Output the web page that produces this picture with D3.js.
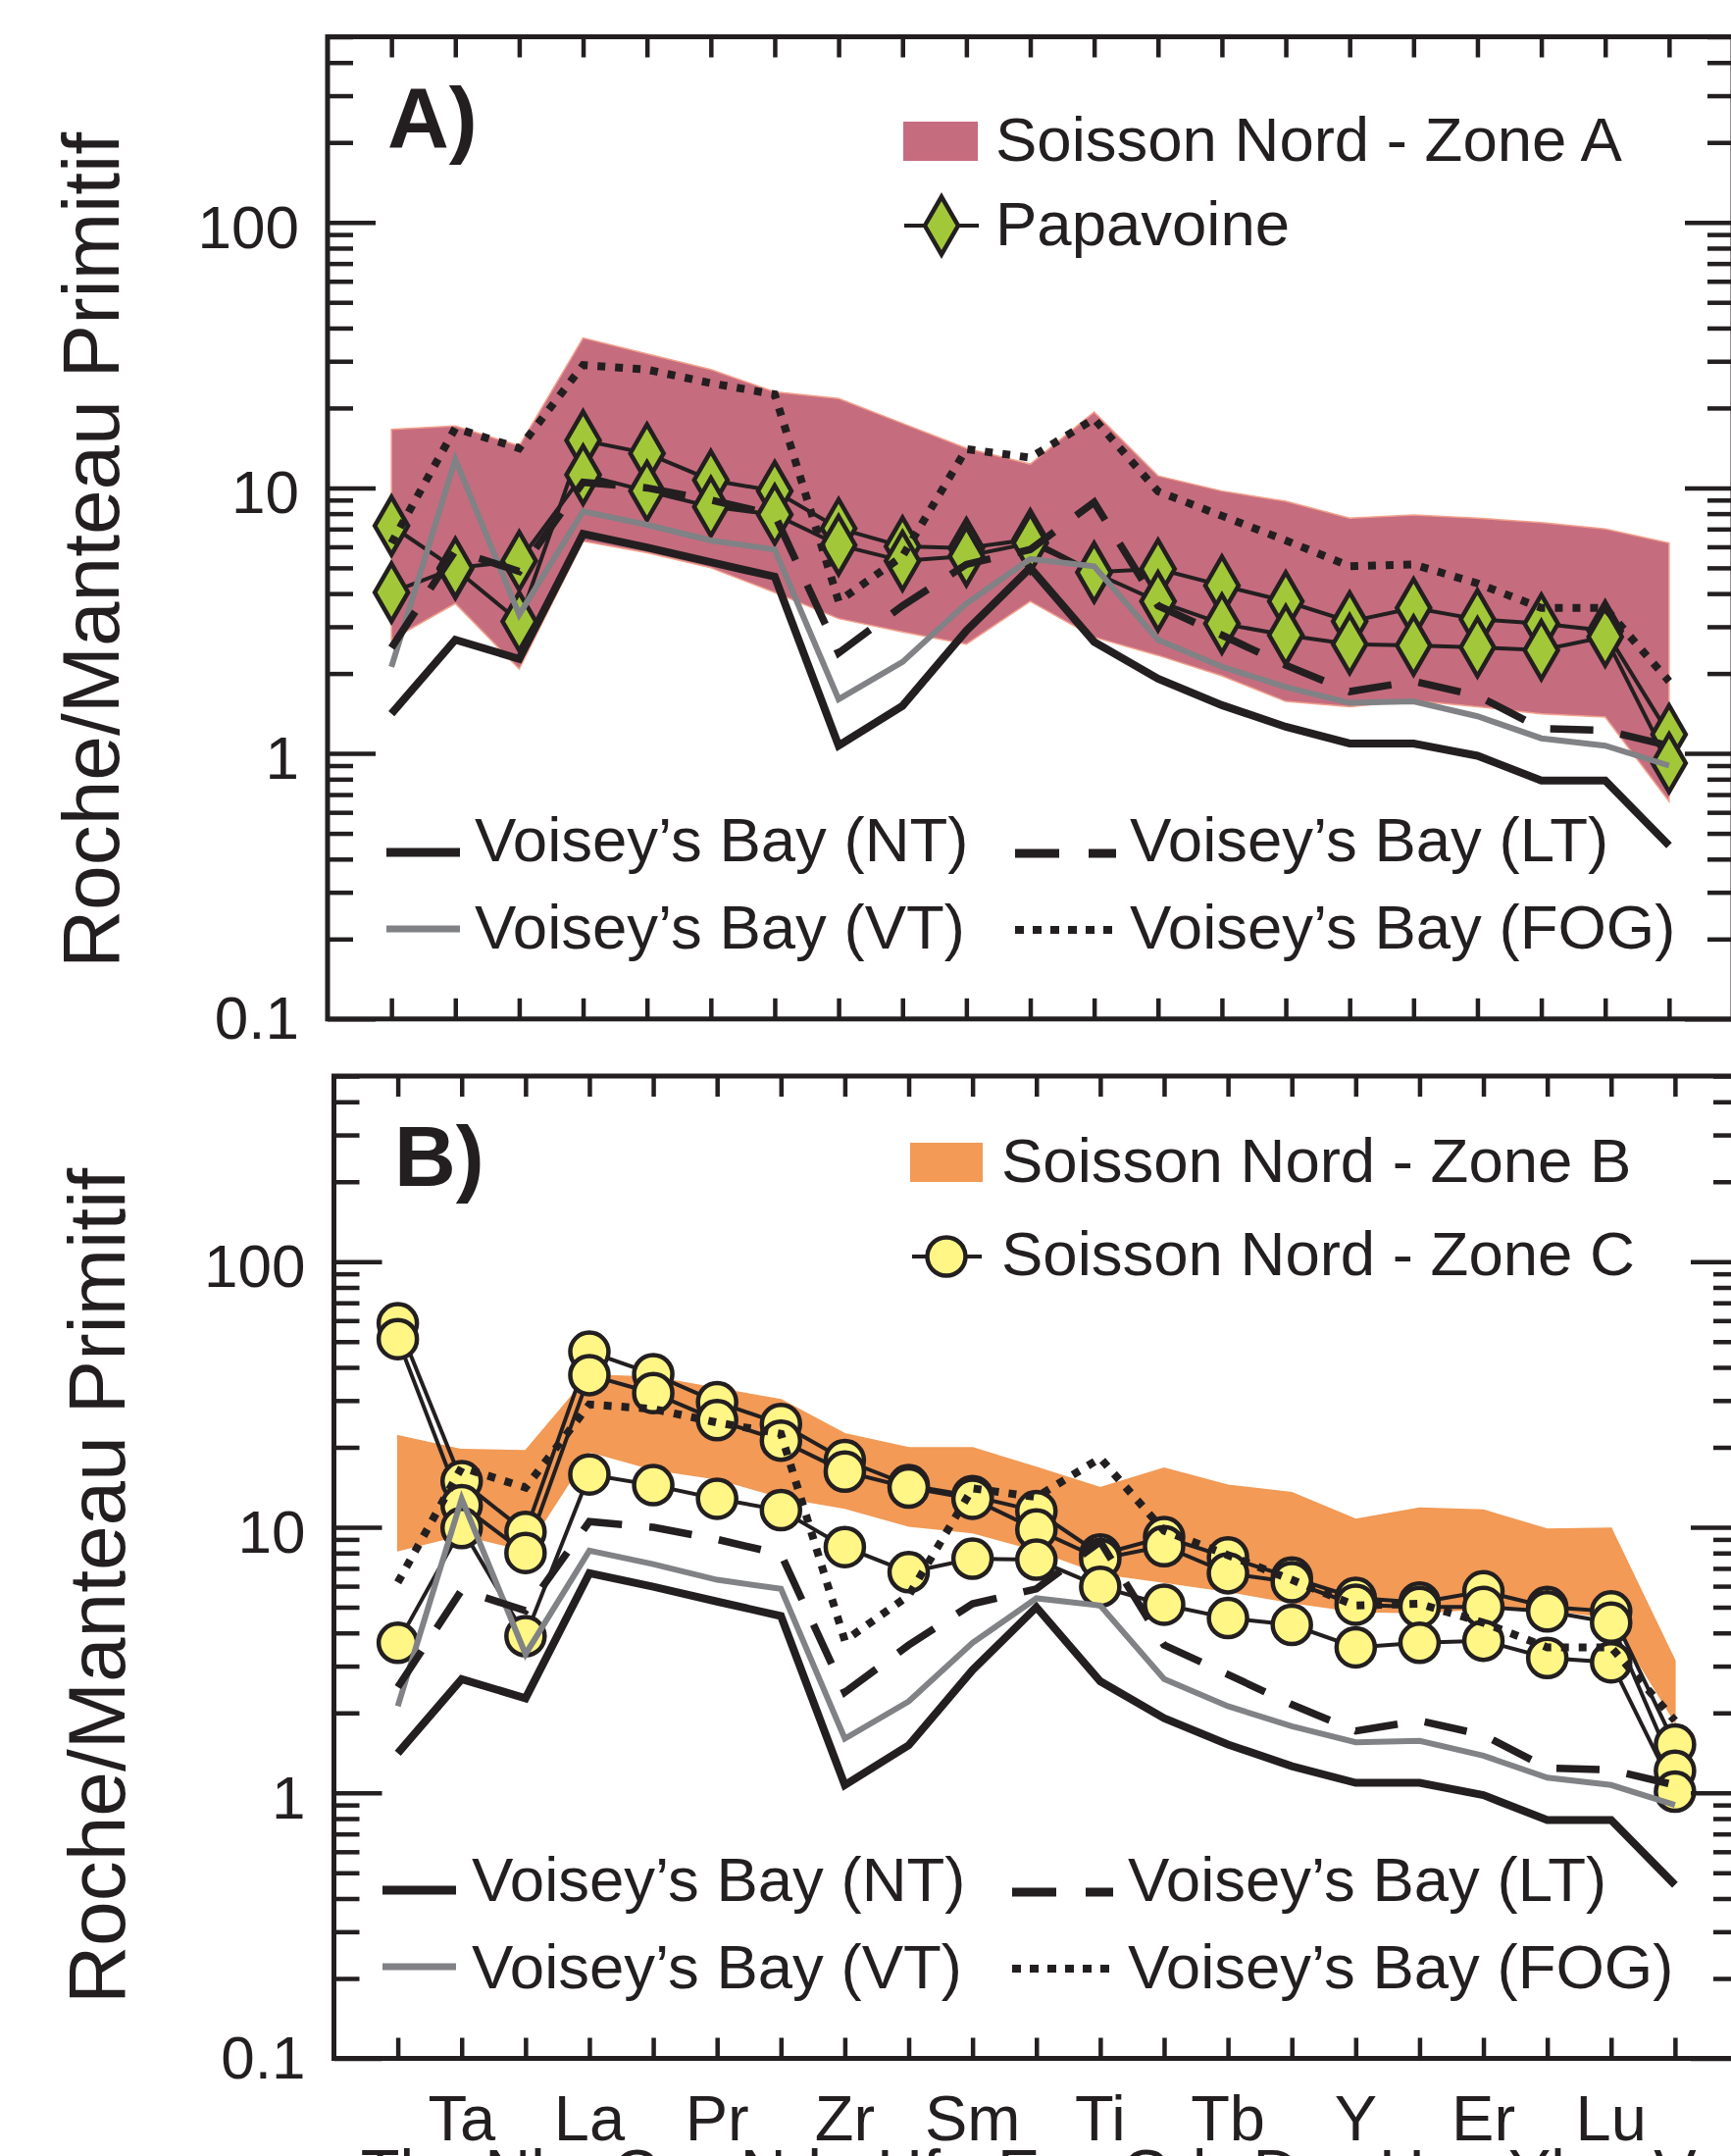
<!DOCTYPE html>
<html>
<head>
<meta charset="utf-8">
<script src="https://cdn.jsdelivr.net/npm/d3@7"></script>
<style>
  html, body { margin: 0; padding: 0; background: #fff; }
  svg { display: block; font-family: "Liberation Sans", Arial, Helvetica, sans-serif; }
</style>
</head>
<body>
<svg id="chart"></svg>
<script>
// éléments du diagramme multi-éléments (normalisé au manteau primitif)
var elements = ["Th", "Ta", "Nb", "La", "Ce", "Pr", "Nd", "Zr", "Hf", "Sm", "Eu",
                "Ti", "Gd", "Tb", "Dy", "Y", "Ho", "Er", "Yb", "Lu", "V"];
var yTickValues = [0.1, 1, 10, 100];
var yTickLabels = ["0.1", "1", "10", "100"];

// Voisey's Bay (mêmes courbes dans A et B)
var voiseyNT  = [1.41, 2.68, 2.27, 6.71, 5.97, 5.25, 4.63, 1.07, 1.51, 2.90, 5.0, 2.63, 1.91, 1.52, 1.26, 1.09, 1.09, 0.98, 0.79, 0.79, 0.45];
var voiseyVT  = [2.12, 12.8, 3.33, 8.16, 7.26, 6.34, 5.86, 1.60, 2.21, 3.67, 5.4, 5.07, 2.68, 2.12, 1.78, 1.55, 1.57, 1.38, 1.14, 1.07, 0.90];
var voiseyLT  = [2.5, 5.8, 4.85, 10.5, 10.0, 9.0, 7.91, 2.39, 3.6, 5.15, 5.86, 8.83, 3.6, 2.79, 2.15, 1.71, 1.87, 1.65, 1.24, 1.22, 1.07];
var voiseyFOG = [6.2, 16.8, 14.1, 29.0, 27.9, 24.8, 22.5, 3.74, 5.53, 14.0, 13.0, 18.2, 9.7, 7.85, 6.34, 5.07, 5.15, 4.37, 3.53, 3.53, 1.87];

// Soisson Nord - Zone A (enveloppe)
var zoneAUpper = [16.6, 17.1, 14.4, 36.7, 32.0, 27.9, 23.0, 21.7, 17.5, 14.1, 12.3, 19.3, 11.1, 9.73, 8.9, 7.7, 7.9, 7.7, 7.4, 7.0, 6.2];
var zoneALower = [2.68, 3.67, 2.08, 6.3, 5.7, 5.0, 4.04, 3.22, 2.87, 2.58, 3.74, 2.74, 2.34, 1.96, 1.57, 1.50, 1.58, 1.50, 1.41, 1.37, 0.66];

// Papavoine
var papavoine1 = [7.2, 4.95, 3.14, 15.1, 13.5, 10.7, 9.73, 7.04, 6.02, 5.93, 6.4, 4.82, 4.95, 4.29, 3.74, 3.14, 3.53, 3.20, 3.08, 2.9, 1.18];
var papavoine2 = [4.04, 5.0, 5.31, 11.2, 9.73, 8.49, 7.94, 6.09, 5.31, 5.53, 6.2, 4.8, 3.74, 3.08, 2.79, 2.58, 2.55, 2.51, 2.45, 2.75, 0.92];

// Soisson Nord - Zone B (enveloppe)
var zoneBUpper = [22.1, 19.6, 19.4, 37.4, 36.7, 33.3, 30.2, 22.5, 19.9, 19.9, 16.8, 14.1, 16.7, 14.4, 13.5, 10.7, 11.8, 11.6, 9.84, 9.92, 3.14];
var zoneBLower = [8.16, 9.36, 8.2, 19.3, 16.5, 15.2, 13.0, 11.8, 10.1, 9.54, 8.2, 6.71, 6.21, 5.74, 5.21, 4.82, 4.76, 4.95, 4.92, 4.55, 1.85];

// Soisson Nord - Zone C
var zoneC1 = [58.6, 14.9, 9.61, 45.8, 37.7, 29.6, 24.5, 17.9, 14.4, 13.1, 11.5, 7.9, 9.18, 7.7, 6.46, 5.42, 5.21, 5.74, 5.01, 4.82, 1.52];
var zoneC2 = [51.1, 12.1, 8.0, 37.4, 32.0, 25.3, 21.2, 16.2, 14.1, 12.8, 9.8, 7.6, 8.49, 6.71, 6.21, 5.11, 5.01, 5.01, 4.82, 4.37, 1.21];
var zoneC3 = [3.67, 9.93, 3.89, 15.8, 14.4, 12.8, 11.6, 8.42, 6.77, 7.61, 7.55, 5.97, 5.11, 4.55, 4.29, 3.53, 3.67, 3.74, 3.22, 3.10, 1.01];

var dark = "#231f20";

var W = 1765, H = 2198;
var svg = d3.select("#chart").attr("width", W).attr("height", H);
svg.append("rect").attr("width", W).attr("height", H).attr("fill", "#fff");

// styles des courbes de référence
var voisey = [
  { name: "Voisey’s Bay (NT)",  data: voiseyNT,  color: dark,      width: 8,   dash: null,    lw: 9, col: 0, row: 0 },
  { name: "Voisey’s Bay (VT)",  data: voiseyVT,  color: "#808285", width: 6,   dash: null,    lw: 7, col: 0, row: 1 },
  { name: "Voisey’s Bay (LT)",  data: voiseyLT,  color: dark,      width: 7.5, dash: "44,28", lw: 9, col: 1, row: 0, ldash: "45,30" },
  { name: "Voisey’s Bay (FOG)", data: voiseyFOG, color: dark,      width: 8,   dash: "8,10",  lw: 8, col: 1, row: 1, ldash: "9,9" }
];

var diamond = d3.symbol().type(d3.symbolDiamond).size(1000);
var circle = d3.symbol().type(d3.symbolCircle).size(1195);

var panels = [
  {
    tag: "A)", tagX: 395, tagY: 150,
    left: 334, right: 1767, top: 37.5, bottom: 1038.8,
    titleX: 121, titleY: 561,
    bandUpper: zoneAUpper, bandLower: zoneALower,
    bandFill: "#c66c7f", bandStroke: "#f2a08c", bandName: "Soisson Nord - Zone A",
    samples: [papavoine1, papavoine2], marker: diamond, markerFill: "#a2c83a", sampleName: "Papavoine",
    legRect: [921, 124, 76, 40], legTextX: 1015, legRow1: 164,
    legLine: [922, 998, 230], legMark: [960, 230], legRow2: 250,
    bottomLeg: { x: [394, 1035], len: [75, 103], tx: [484, 1152], ly: [[869, 947], [870, 948]], ty: [878, 967] }
  },
  {
    tag: "B)", tagX: 402, tagY: 1209,
    left: 340.5, right: 1773, top: 1097, bottom: 2098.5,
    titleX: 127, titleY: 1617,
    bandUpper: zoneBUpper, bandLower: zoneBLower,
    bandFill: "#f29a56", bandStroke: "#f29a56", bandName: "Soisson Nord - Zone B",
    samples: [zoneC1, zoneC2, zoneC3], marker: circle, markerFill: "#fff685", sampleName: "Soisson Nord - Zone C",
    legRect: [928, 1165, 74, 40], legTextX: 1021, legRow1: 1205,
    legLine: [930, 1001, 1281], legMark: [965, 1281], legRow2: 1300,
    bottomLeg: { x: [390, 1032], len: [75, 103], tx: [481, 1150], ly: [[1927, 2005], [1929, 2007]], ty: [1938, 2027] }
  }
];

function drawPanel(p){
  var x = d3.scalePoint().domain(elements).range([p.left, p.right]).padding(1);
  var y = d3.scaleLog().domain([0.1, 500]).range([p.bottom, p.top]);
  var g = svg.append("g");

  // enveloppe
  var area = d3.area()
    .x(function(d, i){ return x(elements[i]); })
    .y0(function(d){ return y(d[0]); })
    .y1(function(d){ return y(d[1]); });
  g.append("path")
    .datum(d3.zip(p.bandLower, p.bandUpper))
    .attr("d", area)
    .attr("fill", p.bandFill)
    .attr("stroke", p.bandStroke)
    .attr("stroke-width", 1.5);

  var line = d3.line()
    .x(function(d, i){ return x(elements[i]); })
    .y(function(d){ return y(d); });

  // échantillons : lignes puis symboles
  p.samples.forEach(function(s){
    g.append("path")
      .datum(s)
      .attr("d", line)
      .attr("fill", "none")
      .attr("stroke", dark)
      .attr("stroke-width", 4);
  });
  p.samples.forEach(function(s){
    g.selectAll(null)
      .data(s)
      .enter()
      .append("path")
      .attr("transform", function(d, i){ return "translate(" + x(elements[i]) + "," + y(d) + ")"; })
      .attr("d", p.marker)
      .attr("fill", p.markerFill)
      .attr("stroke", dark)
      .attr("stroke-width", 4.5);
  });

  // Voisey's Bay par-dessus
  voisey.forEach(function(v){
    g.append("path")
      .datum(v.data)
      .attr("d", line)
      .attr("fill", "none")
      .attr("stroke", v.color)
      .attr("stroke-width", v.width)
      .attr("stroke-dasharray", v.dash)
      .attr("stroke-linejoin", "miter");
  });

  // cadre
  g.append("rect")
    .attr("x", p.left).attr("y", p.top)
    .attr("width", p.right - p.left).attr("height", p.bottom - p.top)
    .attr("fill", "none").attr("stroke", dark).attr("stroke-width", 5);

  // graduations
  var minor = [];
  [0.1, 1, 10, 100].forEach(function(d){
    for (var m = 2; m <= 9; m++) if (m * d <= 500) minor.push(m * d);
  });

  function tidy(sel){
    sel.select(".domain").remove();
    sel.selectAll("text").remove();
    sel.selectAll("line").attr("stroke", dark).attr("stroke-width", 4.5);
  }
  g.append("g").attr("transform", "translate(0," + p.top + ")")
    .call(d3.axisTop(x).tickSize(-21).tickFormat("")).call(tidy);
  g.append("g").attr("transform", "translate(0," + p.bottom + ")")
    .call(d3.axisBottom(x).tickSize(-21).tickFormat("")).call(tidy);
  g.append("g").attr("transform", "translate(" + p.left + ",0)")
    .call(d3.axisRight(y).tickValues(yTickValues).tickSize(49).tickFormat("")).call(tidy);
  g.append("g").attr("transform", "translate(" + p.left + ",0)")
    .call(d3.axisRight(y).tickValues(minor).tickSize(26).tickFormat("")).call(tidy);
  g.append("g").attr("transform", "translate(" + p.right + ",0)")
    .call(d3.axisLeft(y).tickValues(yTickValues).tickSize(49).tickFormat("")).call(tidy);
  g.append("g").attr("transform", "translate(" + p.right + ",0)")
    .call(d3.axisLeft(y).tickValues(minor).tickSize(26).tickFormat("")).call(tidy);

  // étiquettes de l'axe Y
  g.selectAll(null)
    .data(yTickValues)
    .enter()
    .append("text")
    .attr("x", p.left - 29)
    .attr("y", function(d){ return y(d) + (d < 1 ? 20 : 26); })
    .attr("text-anchor", "end")
    .attr("font-size", 62)
    .attr("fill", dark)
    .text(function(d, i){ return yTickLabels[i]; });

  // titre de l'axe Y
  g.append("text")
    .attr("transform", "translate(" + p.titleX + "," + p.titleY + ") rotate(-90)")
    .attr("text-anchor", "middle")
    .attr("font-size", 82)
    .attr("fill", dark)
    .text("Roche/Manteau Primitif");

  // lettre du panneau
  g.append("text")
    .attr("x", p.tagX).attr("y", p.tagY)
    .attr("font-size", 87).attr("font-weight", "bold")
    .attr("fill", dark)
    .text(p.tag);

  // légende du haut
  g.append("rect")
    .attr("x", p.legRect[0]).attr("y", p.legRect[1])
    .attr("width", p.legRect[2]).attr("height", p.legRect[3])
    .attr("fill", p.bandFill);
  g.append("text")
    .attr("x", p.legTextX).attr("y", p.legRow1)
    .attr("font-size", 63.5).attr("fill", dark)
    .text(p.bandName);
  g.append("line")
    .attr("x1", p.legLine[0]).attr("x2", p.legLine[1])
    .attr("y1", p.legLine[2]).attr("y2", p.legLine[2])
    .attr("stroke", dark).attr("stroke-width", 4);
  g.append("path")
    .attr("transform", "translate(" + p.legMark[0] + "," + p.legMark[1] + ")")
    .attr("d", p.marker)
    .attr("fill", p.markerFill)
    .attr("stroke", dark)
    .attr("stroke-width", 4.5);
  g.append("text")
    .attr("x", p.legTextX).attr("y", p.legRow2)
    .attr("font-size", 63.5).attr("fill", dark)
    .text(p.sampleName);

  // légende du bas (Voisey's Bay)
  var b = p.bottomLeg;
  voisey.forEach(function(v){
    var x0 = b.x[v.col], ly = b.ly[v.col][v.row];
    g.append("line")
      .attr("x1", x0).attr("x2", x0 + b.len[v.col])
      .attr("y1", ly).attr("y2", ly)
      .attr("stroke", v.color)
      .attr("stroke-width", v.lw)
      .attr("stroke-dasharray", v.ldash || null);
    g.append("text")
      .attr("x", b.tx[v.col]).attr("y", b.ty[v.row])
      .attr("font-size", 63.5).attr("fill", dark)
      .text(v.name);
  });

  return x;
}

var xA = drawPanel(panels[0]);
var xB = drawPanel(panels[1]);

// noms des éléments sous le panneau B, sur deux rangées
svg.append("g")
  .selectAll("text")
  .data(elements)
  .enter()
  .append("text")
  .attr("x", function(d){ return xB(d); })
  .attr("y", function(d, i){ return i % 2 === 1 ? 2182 : 2237; })
  .attr("text-anchor", "middle")
  .attr("font-size", 65)
  .attr("fill", dark)
  .text(function(d){ return d; });
</script>
</body>
</html>
